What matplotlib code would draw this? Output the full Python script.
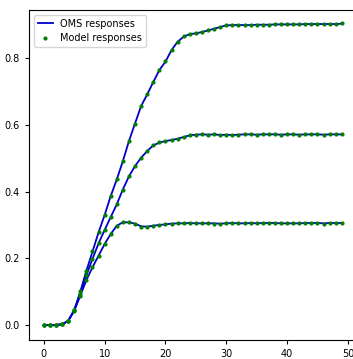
import numpy as np
import matplotlib
matplotlib.use("Agg")
import matplotlib.pyplot as plt

# time steps
t = list(range(50))

# OMS responses (three step levels)
oms_high = [0.0, 0.0, 0.0, 0.002, 0.012, 0.045, 0.100, 0.163, 0.220, 0.278,
            0.330, 0.387, 0.437, 0.492, 0.552, 0.605, 0.657, 0.692, 0.729, 0.765,
            0.790, 0.825, 0.850, 0.865, 0.873, 0.875, 0.879, 0.884, 0.889, 0.894,
            0.899, 0.900, 0.900, 0.900, 0.900, 0.901, 0.901, 0.901, 0.902, 0.902,
            0.902, 0.902, 0.902, 0.903, 0.903, 0.903, 0.903, 0.903, 0.903, 0.904]
oms_mid = [0.0, 0.0, 0.0, 0.002, 0.012, 0.044, 0.095, 0.150, 0.198, 0.245,
           0.285, 0.324, 0.362, 0.407, 0.446, 0.477, 0.502, 0.522, 0.539, 0.547,
           0.552, 0.555, 0.559, 0.564, 0.569, 0.571, 0.572, 0.571, 0.572, 0.570,
           0.571, 0.570, 0.571, 0.572, 0.572, 0.571, 0.572, 0.572, 0.572, 0.571,
           0.572, 0.572, 0.571, 0.572, 0.572, 0.572, 0.571, 0.572, 0.572, 0.572]
oms_low = [0.0, 0.0, 0.0, 0.002, 0.012, 0.043, 0.088, 0.135, 0.173, 0.208,
           0.243, 0.273, 0.298, 0.308, 0.308, 0.304, 0.296, 0.295, 0.298, 0.300,
           0.302, 0.304, 0.305, 0.305, 0.306, 0.305, 0.305, 0.305, 0.305, 0.304,
           0.305, 0.306, 0.305, 0.305, 0.306, 0.305, 0.306, 0.306, 0.306, 0.305,
           0.305, 0.305, 0.305, 0.306, 0.306, 0.306, 0.305, 0.306, 0.306, 0.306]

# Model responses (nearly identical to OMS)
model_high = [0.0, 0.0, 0.0, 0.003, 0.012, 0.044, 0.101, 0.163, 0.221, 0.279,
              0.329, 0.388, 0.437, 0.491, 0.553, 0.604, 0.657, 0.693, 0.729, 0.765,
              0.791, 0.825, 0.850, 0.866, 0.873, 0.876, 0.879, 0.884, 0.889, 0.894,
              0.899, 0.900, 0.900, 0.901, 0.900, 0.901, 0.901, 0.901, 0.902, 0.902,
              0.902, 0.902, 0.902, 0.903, 0.903, 0.903, 0.903, 0.903, 0.903, 0.905]
model_mid = [0.0, 0.0, 0.0, 0.002, 0.012, 0.044, 0.094, 0.150, 0.198, 0.246,
             0.285, 0.323, 0.362, 0.406, 0.446, 0.477, 0.502, 0.522, 0.539, 0.548,
             0.552, 0.556, 0.559, 0.564, 0.569, 0.571, 0.572, 0.570, 0.572, 0.569,
             0.571, 0.570, 0.571, 0.572, 0.572, 0.570, 0.572, 0.572, 0.572, 0.570,
             0.572, 0.572, 0.570, 0.572, 0.572, 0.572, 0.571, 0.572, 0.572, 0.572]
model_low = [0.0, 0.0, 0.0, 0.002, 0.012, 0.043, 0.087, 0.135, 0.173, 0.208,
             0.244, 0.273, 0.298, 0.308, 0.308, 0.304, 0.295, 0.294, 0.298, 0.301,
             0.302, 0.304, 0.305, 0.305, 0.306, 0.305, 0.305, 0.305, 0.304, 0.304,
             0.305, 0.306, 0.305, 0.305, 0.306, 0.305, 0.306, 0.306, 0.306, 0.305,
             0.305, 0.305, 0.305, 0.306, 0.306, 0.306, 0.304, 0.306, 0.306, 0.306]

fig = plt.figure(figsize=(3.53, 3.59), dpi=100)
ax = fig.add_axes([0.082, 0.053, 0.94, 0.919])

for i, (o, m) in enumerate([(oms_high, model_high), (oms_mid, model_mid), (oms_low, model_low)]):
    ax.plot(t, o, color="#0000c8", lw=1.3, label="OMS responses" if i == 0 else None, zorder=2)
    ax.scatter(t, m, color="green", s=4, label="Model responses" if i == 0 else None, zorder=3)

ax.set_xlim(-2.45, 52.12)
ax.set_ylim(-0.045, 0.945)
ax.set_xticks([0, 10, 20, 30, 40, 50])
ax.set_yticks([0.0, 0.2, 0.4, 0.6, 0.8])
ax.tick_params(labelsize=7, length=3, width=0.8)
for s in ax.spines.values():
    s.set_linewidth(0.8)

ax.legend(loc="upper left", fontsize=7, handlelength=1.6, borderpad=0.4,
          labelspacing=0.4, handletextpad=0.7)

fig.savefig("out.png", dpi=100)
